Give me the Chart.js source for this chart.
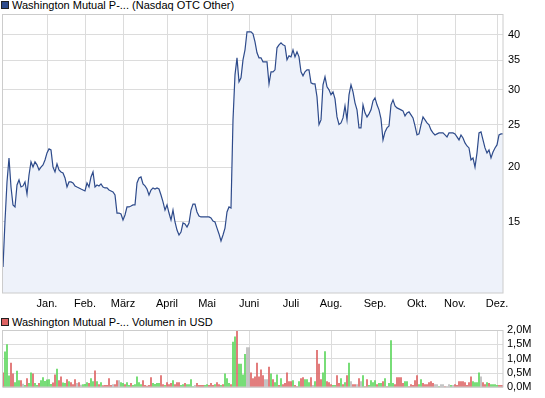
<!DOCTYPE html>
<html><head><meta charset="utf-8">
<script src="https://cdn.jsdelivr.net/npm/chart.js@4/dist/chart.umd.min.js"></script>
<style>
html,body{margin:0;padding:0;background:#fff;width:545px;height:398px;overflow:hidden;font-family:"Liberation Sans",Arial,sans-serif;}
#c1{position:absolute;left:0;top:0;}
#c2{position:absolute;left:0;top:318px;}
.lg{position:absolute;left:12px;font-size:11px;line-height:11px;color:#000;white-space:nowrap;}
.sq{position:absolute;width:6px;height:6px;border:1px solid #222;}
</style></head><body>
<span class="sq" style="left:1px;top:1px;background:#2e4b8b"></span>
<div class="lg" style="top:0px">Washington Mutual P-... (Nasdaq OTC Other)</div>
<span class="sq" style="left:1px;top:318px;background:#dd6363"></span>
<div class="lg" style="top:317px">Washington Mutual P-... Volumen in USD</div>
<canvas id="c1" width="545" height="318"></canvas>
<canvas id="c2" width="545" height="80"></canvas>
<script>
const months = ['Jan.','Feb.','März','April','Mai','Juni','Juli','Aug.','Sep.','Okt.','Nov.','Dez.'];
const monthStartIndex = [22,41,60,82,102,123,144,164,186,207,226,247];
const priceTicks = [15,20,25,30,35,40];
const volumeTicks = [0,0.5,1.0,1.5,2.0];

const prices = [
11.85,15.08,18.50,20.98,18.02,16.40,16.23,18.21,18.70,18.02,
18.12,18.50,17.37,19.19,20.55,20.00,20.55,20.23,19.70,20.00,
20.23,20.76,21.54,22.00,21.88,20.00,19.50,20.33,19.70,19.50,
19.39,18.89,18.02,18.50,18.50,18.40,18.12,18.02,17.93,17.83,
17.74,17.65,18.40,18.02,18.99,19.50,18.02,18.21,18.12,18.31,
18.02,17.93,17.93,17.74,17.65,17.56,17.28,15.72,15.72,15.64,
15.16,15.56,16.23,16.23,16.31,16.40,16.40,18.40,18.89,18.99,
18.31,18.12,17.83,17.28,17.74,17.93,17.83,17.93,17.83,17.28,
16.66,15.97,16.40,15.72,15.16,15.97,15.00,14.38,14.01,14.23,
14.92,14.84,14.61,14.92,15.97,16.48,16.48,15.81,15.48,15.40,
15.40,15.40,15.40,15.40,15.32,15.08,15.00,14.53,14.09,13.58,
14.01,14.53,15.81,16.23,16.14,25.61,32.42,35.45,31.26,31.92,
35.08,36.97,40.63,40.63,40.63,40.20,38.55,36.39,35.45,35.45,
34.71,34.71,34.71,30.93,32.94,32.94,33.29,37.36,37.95,38.35,
37.95,37.75,35.08,35.82,35.64,36.97,35.64,36.58,35.64,32.94,
32.25,32.94,33.29,33.29,31.09,30.93,30.93,28.89,25.00,25.61,
30.77,32.09,30.45,29.97,29.20,29.66,28.59,26.01,25.00,25.21,
25.88,27.56,25.61,29.20,30.77,29.66,28.00,26.99,24.56,24.56,
27.71,26.57,26.01,26.43,26.99,28.29,28.74,27.71,26.99,25.74,
23.06,24.05,24.56,24.81,27.71,28.44,27.56,27.27,27.13,26.99,
26.85,26.15,26.57,26.71,26.29,25.88,24.81,23.67,23.80,24.95,
26.01,25.61,25.21,24.95,24.30,23.92,23.67,23.80,23.92,23.92,
23.92,23.67,23.42,23.92,23.92,23.92,23.80,23.42,23.06,23.67,
23.30,22.70,22.34,22.11,20.76,20.98,20.00,21.54,23.92,24.05,
23.06,22.11,21.54,21.88,20.98,21.65,22.11,22.46,23.67,23.80,
23.80];

// volume in million USD
const volumes = [
.51,1.24,1.49,.40,.85,.47,.17,.57,.24,.24,
.12,.07,.31,.14,.51,.47,.14,.07,.14,.24,
.34,.21,.26,.27,.11,.16,.44,.64,.24,.37,
.16,.14,.27,.20,.17,.10,.27,.14,.17,.08,
.10,.11,.17,.14,.31,.20,.58,.20,.10,.17,
.06,.07,.07,.31,.07,.10,.10,.24,.24,.17,
.14,.10,.17,.07,.14,.07,.10,.37,.17,.10,
.24,.07,.05,.07,.34,.14,.11,.14,.14,.41,
.10,.07,.17,.10,.14,.24,.10,.17,.17,.07,
.10,.14,.10,.10,.27,.03,.07,.14,.07,.07,
.07,.07,.10,.07,.14,.07,.10,.17,.10,.07,
.10,.47,.31,.14,.10,1.58,1.76,2.00,.81,.81,
.44,1.15,1.39,1.39,.51,.31,.37,.85,.37,.61,
.41,.27,.27,.71,.47,.27,.17,.44,.07,.31,
.10,.14,.51,.20,.20,.24,.07,.03,.20,.31,
.34,.27,.27,.17,.34,.07,.20,1.29,.81,.27,
.51,1.25,.20,.17,.10,.07,.07,.41,.14,.31,
.10,.17,.41,.85,.20,.10,.10,.10,.31,.20,
.41,.03,.27,.07,.24,.17,.24,.10,.14,.14,
.20,.31,.03,.14,1.63,.14,.10,.34,.34,.34,
.14,.20,.20,.03,.10,.07,.24,.41,.10,.27,
.14,.10,.10,.17,.20,.14,.10,.10,.03,.10,
.10,.03,.03,.10,.07,.07,.10,.07,.20,.20,
.20,.17,.07,.17,.37,.20,.17,.17,.51,.37,
.17,.10,.17,.14,.10,.10,.10,.07,.07,.07,
.07];

// direction of each trading day: u = up, d = down, f = unchanged
const trend = [
'd','u','u','u','d','d','u','u','u','d',
'f','u','d','u','u','d','u','u','d','u',
'u','u','u','u','u','d','d','u','d','d',
'u','u','d','u','d','d','d','f','d','f',
'u','u','u','d','u','u','d','u','d','u',
'd','d','d','d','d','f','d','d','f','u',
'u','d','u','u','d','u','u','u','u','u',
'd','d','d','d','d','u','u','u','u','d',
'd','u','d','d','d','u','d','d','d','u',
'u','d','u','u','u','u','f','d','d','d',
'd','u','u','d','d','d','u','d','d','u',
'd','u','u','u','d','u','u','d','u','u',
'u','u','f','f','d','d','d','d','d','d',
'd','f','f','d','u','d','u','u','d','u',
'd','d','d','d','d','u','d','d','u','d',
'd','u','u','u','d','f','u','d','d','d',
'u','u','d','d','d','u','u','d','d','u',
'd','u','d','u','f','d','d','f','d','f',
'u','d','d','u','u','u','u','d','u','u',
'd','u','d','u','u','u','d','d','d','d',
'd','u','u','d','d','d','d','d','u','u',
'd','d','d','d','d','d','f','f','u','f',
'f','d','f','f','u','f','d','d','d','d',
'd','d','d','d','d','u','u','u','u','f',
'd','d','u','d','u','u','u','u','d','d',
'd'];

Chart.defaults.font.family = '"Liberation Sans", Arial, sans-serif';
Chart.defaults.font.size = 11;
Chart.defaults.color = '#000';
Chart.defaults.animation = false;

const gridColor = '#dcdcdc';
const frame = {
  id:'frame',
  afterDatasetsDraw(chart){
    const a = chart.chartArea, ctx = chart.ctx;
    ctx.save(); ctx.strokeStyle = '#cccccc'; ctx.lineWidth = 1;
    ctx.strokeRect(Math.round(a.left)-0.5, Math.round(a.top)+0.5, Math.round(a.right-a.left)+0.5, Math.round(a.bottom-a.top)-0.5);
    ctx.restore();
  }
};

function monthAxis(showLabels, h){
  return {
    type:'linear', min:0, max:prices.length-1, position:'bottom', offset:false,
    afterBuildTicks(s){ s.ticks = monthStartIndex.map(v=>({value:v})); },
    afterFit(s){ s.height = h; },
    grid:{color:gridColor, drawTicks:false, offset:false},
    border:{display:false},
    ticks:{display:showLabels, autoSkip:false, maxRotation:0, padding:4,
      callback(v){ const k = monthStartIndex.indexOf(v); return k>=0 ? months[k] : ''; }}
  };
}

new Chart(document.getElementById('c1'), {
  type:'line',
  data:{datasets:[{
    data: prices.map((p,i)=>({x:i,y:p})),
    borderColor:'#2e4b8b', borderWidth:1.2, backgroundColor:'#eef2fa',
    fill:'start', pointRadius:0, tension:0
  }]},
  options:{
    responsive:false, devicePixelRatio:1,
    layout:{padding:{top:14,left:3,right:0,bottom:0}},
    plugins:{legend:{display:false}, tooltip:{enabled:false}},
    scales:{
      x: monthAxis(true, 25),
      y:{type:'logarithmic', position:'right', min:10.34, max:44.6,
        afterBuildTicks(s){ s.ticks = priceTicks.map(v=>({value:v})); },
        afterFit(s){ s.width = 42; },
        grid:{color:gridColor, drawTicks:false}, border:{display:false},
        ticks:{padding:5, autoSkip:false, callback(v){ return String(v); }}}
    }
  },
  plugins:[frame]
});

const trendColor = {u:'#5cd65c', d:'#dd6363', f:'#b8b8b8'};
new Chart(document.getElementById('c2'), {
  type:'bar',
  data:{datasets:[{
    data: volumes.map((v,i)=>({x:i,y:v})),
    backgroundColor: trend.map(t=>trendColor[t]),
    barThickness:1, borderWidth:0
  }]},
  options:{
    responsive:false, devicePixelRatio:1,
    layout:{padding:{top:12,left:3,right:0,bottom:0}},
    plugins:{legend:{display:false}, tooltip:{enabled:false}},
    scales:{
      x: monthAxis(false, 9),
      y:{min:0, max:2.0, position:'right',
        afterBuildTicks(s){ s.ticks = volumeTicks.map(v=>({value:v})); },
        afterFit(s){ s.width = 42; },
        grid:{color:gridColor, drawTicks:false}, border:{display:false},
        ticks:{padding:4, autoSkip:false, callback(v){ return v.toFixed(1).replace('.',',')+'M'; }}}
    }
  },
  plugins:[frame]
});
</script>
</body></html>
